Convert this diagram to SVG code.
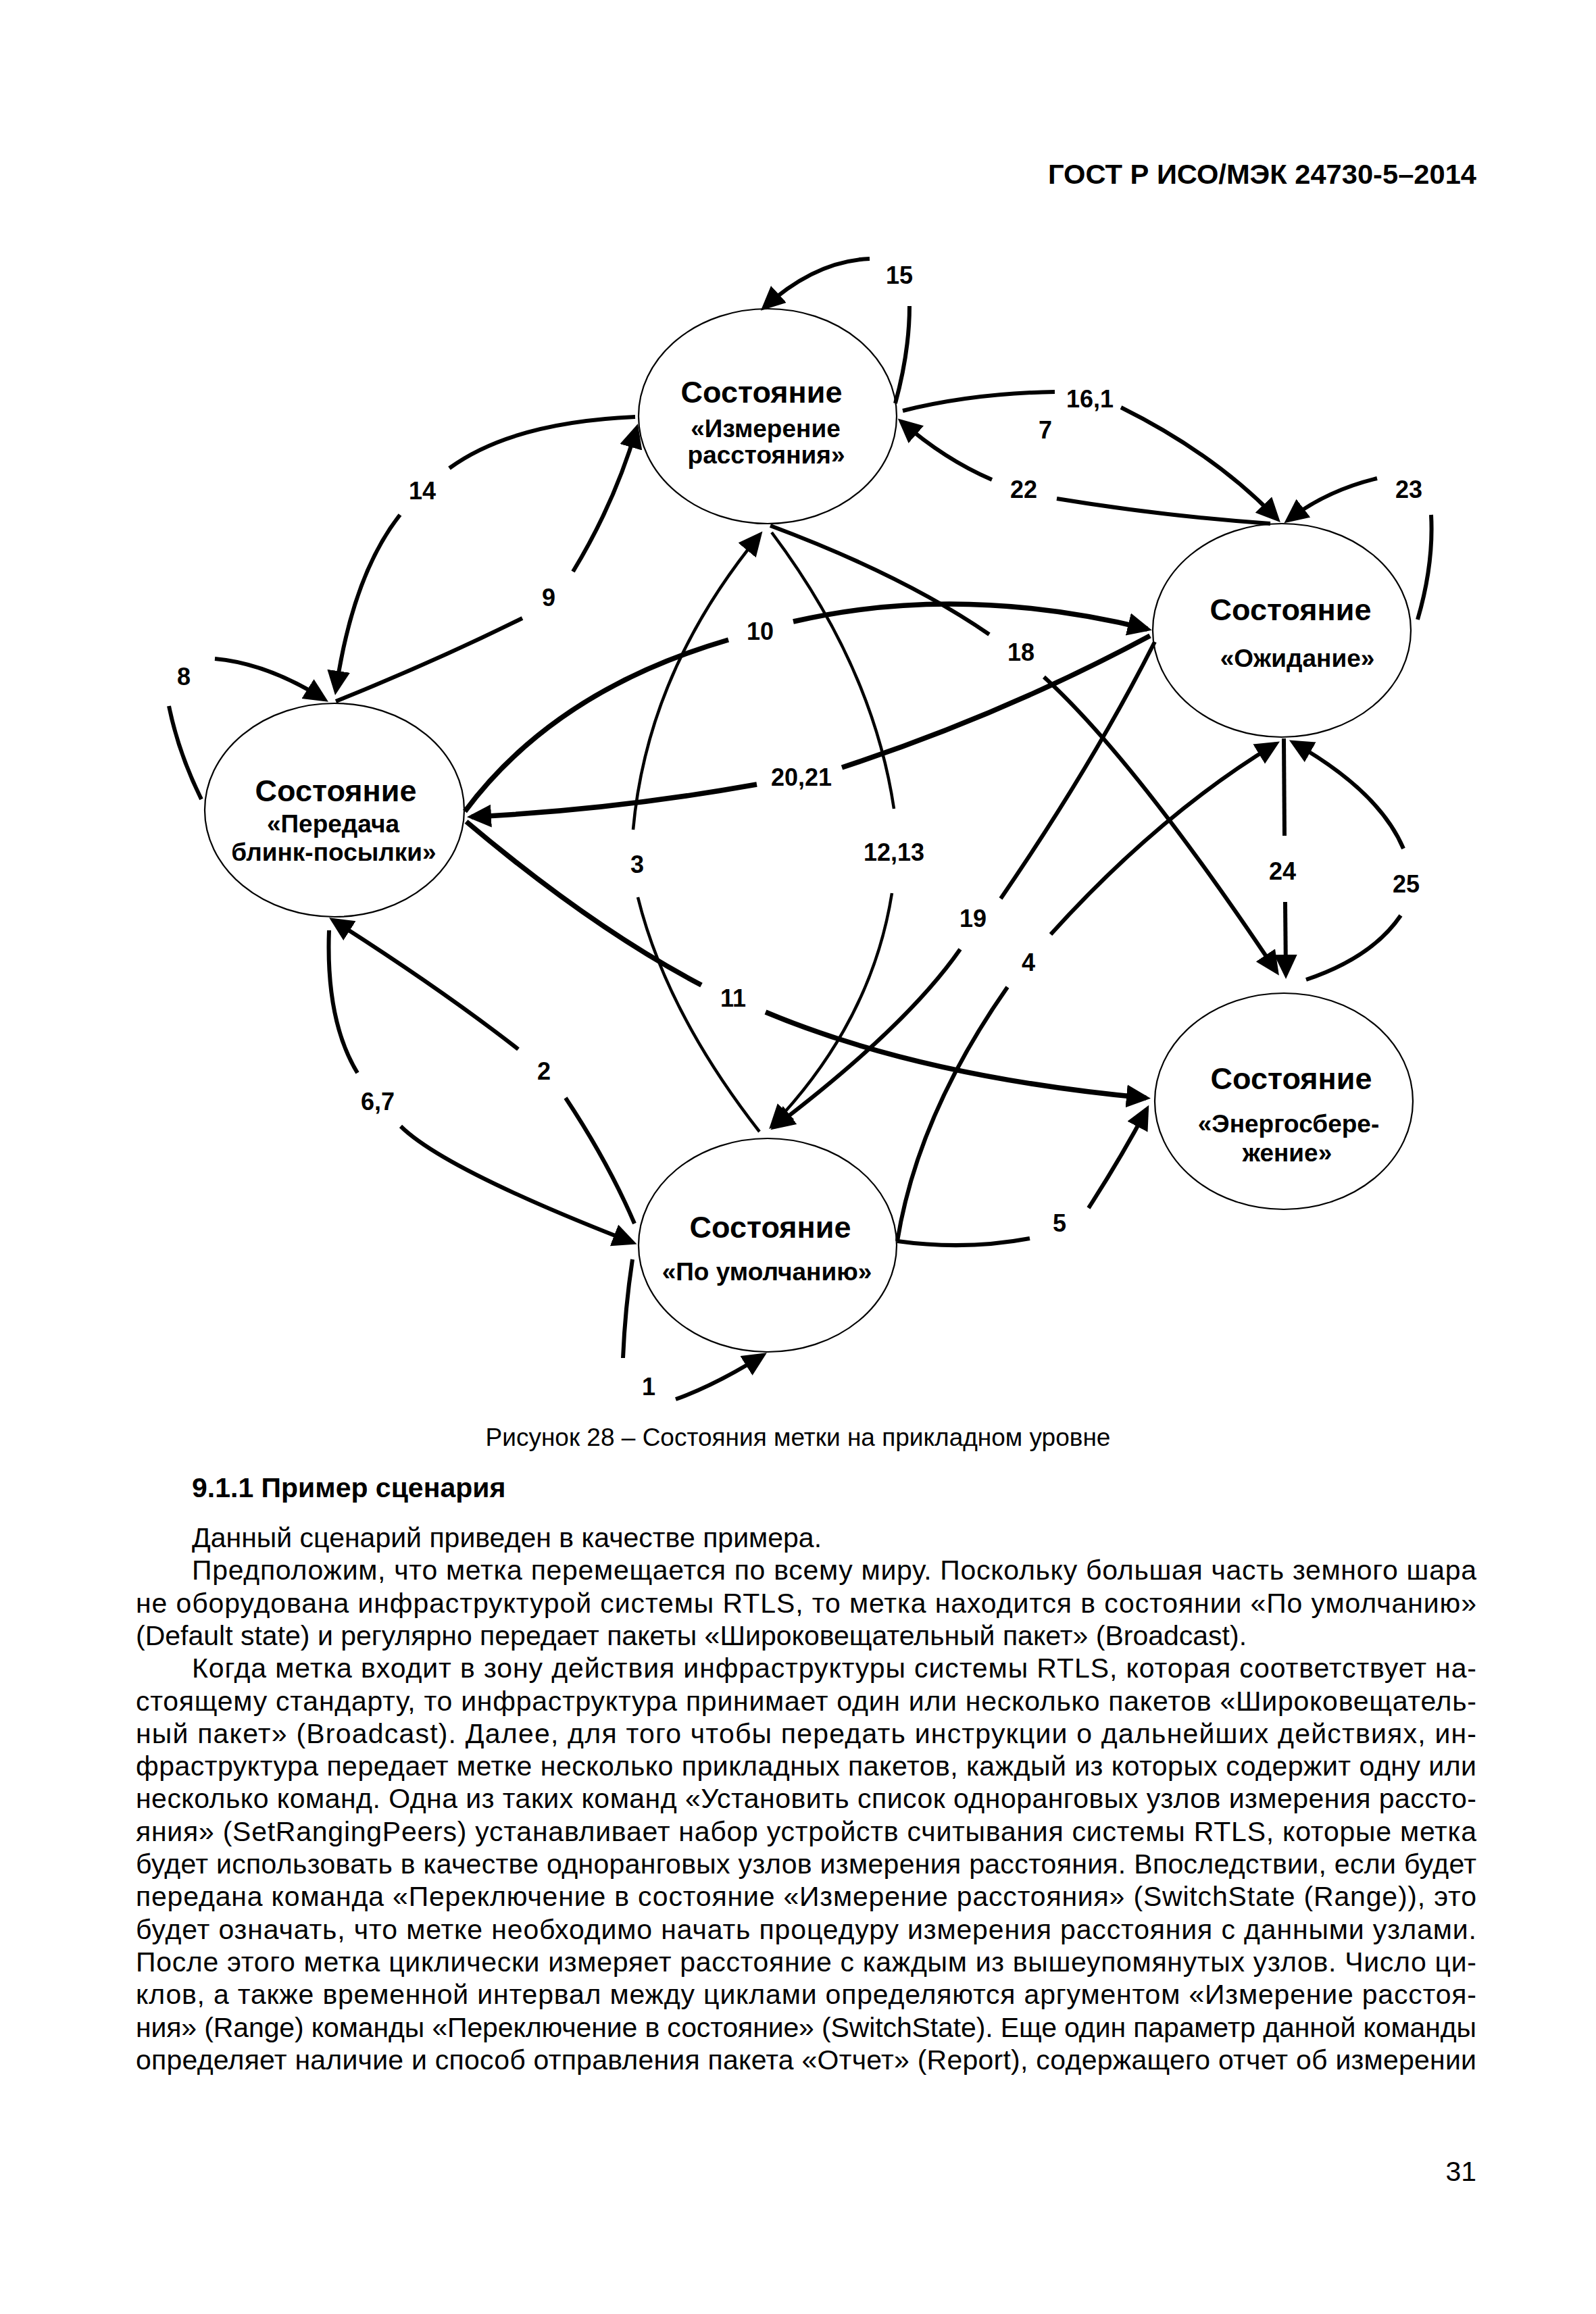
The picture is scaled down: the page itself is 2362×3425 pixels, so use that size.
<svg xmlns="http://www.w3.org/2000/svg" width="2362" height="3425" viewBox="0 0 2362 3425">
<style>
  .bg{fill:#fff}
  .node{fill:#fff;stroke:#000;stroke-width:2.2}
  .t1{font-family:"Liberation Sans",Arial,sans-serif;font-weight:bold;font-size:45px;text-anchor:middle;fill:#000}
  .t2{font-family:"Liberation Sans",Arial,sans-serif;font-weight:bold;font-size:37px;text-anchor:middle;fill:#000}
  .lbl{font-family:"Liberation Sans",Arial,sans-serif;font-weight:bold;font-size:36px;text-anchor:middle;fill:#000}
  .c{fill:none;stroke:#000;stroke-width:6;stroke-linecap:butt}
  .thin{stroke-width:4.5}
  .thick{stroke-width:7.5}
  .arr{marker-end:url(#ah)}
  .hdr{font-family:"Liberation Sans",Arial,sans-serif;font-weight:bold;font-size:41px;fill:#000}
  .cap{font-family:"Liberation Sans",Arial,sans-serif;font-size:37px;fill:#000}
  .body{font-family:"Liberation Sans",Arial,sans-serif;font-size:41px;fill:#000}
</style>
<defs>
  <marker id="ah" markerUnits="userSpaceOnUse" markerWidth="38" markerHeight="36" refX="29" refY="17" orient="auto">
    <path d="M0,0 L36,17 L0,34 z" fill="#000"/>
  </marker>
</defs>
<rect class="bg" x="0" y="0" width="2362" height="3425"/>

<text class="hdr" x="2185" y="272" text-anchor="end" textLength="634" lengthAdjust="spacingAndGlyphs">ГОСТ Р ИСО/МЭК 24730-5–2014</text>

<g id="nodes">
  <g id="node-izmerenie">
    <ellipse class="node" cx="1136" cy="616" rx="191" ry="159"/>
    <text class="t1" x="1127" y="596">Состояние</text>
    <text class="t2" x="1133" y="647">«Измерение</text>
    <text class="t2" x="1134" y="686">расстояния»</text>
  </g>
  <g id="node-ozhidanie">
    <ellipse class="node" cx="1897" cy="933" rx="191" ry="158"/>
    <text class="t1" x="1910" y="918">Состояние</text>
    <text class="t2" x="1920" y="987">«Ожидание»</text>
  </g>
  <g id="node-peredacha">
    <ellipse class="node" cx="495" cy="1199" rx="192" ry="158"/>
    <text class="t1" x="497" y="1186">Состояние</text>
    <text class="t2" x="493" y="1232">«Передача</text>
    <text class="t2" x="494" y="1274">блинк-посылки»</text>
  </g>
  <g id="node-umolch">
    <ellipse class="node" cx="1136" cy="1843" rx="191" ry="158"/>
    <text class="t1" x="1140" y="1832">Состояние</text>
    <text class="t2" x="1135" y="1895">«По умолчанию»</text>
  </g>
  <g id="node-energo">
    <ellipse class="node" cx="1900" cy="1630" rx="191" ry="160"/>
    <text class="t1" x="1911" y="1612">Состояние</text>
    <text class="t2" x="1907" y="1676">«Энергосбере-</text>
    <text class="t2" x="1905" y="1719">жение»</text>
  </g>
</g>

<g id="connectors">
  <g id="e15">
    <path class="c" d="M1325,597 Q1346,520 1346,453"/>
    <path class="c arr" d="M1287,383 Q1207,386 1131,455"/>
    <text class="lbl" x="1331" y="420">15</text>
  </g>
  <g id="e16">
    <path class="c" d="M1336,608 Q1440,582 1561,580"/>
    <path class="c arr" d="M1659,603 Q1798,672 1890,768"/>
    <text class="lbl" x="1613" y="603">16,1</text>
    <text class="lbl" x="1547" y="649">7</text>
  </g>
  <g id="e22">
    <path class="c" d="M1880,775 Q1722,764 1564,738"/>
    <path class="c arr" d="M1468,710 Q1398,680 1334,624"/>
    <text class="lbl" x="1515" y="737">22</text>
  </g>
  <g id="e23">
    <path class="c" d="M2098,917 Q2122,835 2118,762"/>
    <path class="c arr" d="M2038,708 Q1963,726 1906,770"/>
    <text class="lbl" x="2085" y="737">23</text>
  </g>
  <g id="e14">
    <path class="c" d="M940,617 Q758,625 665,693"/>
    <path class="c arr" d="M592,762 Q522,851 497,1022"/>
    <text class="lbl" x="625" y="739">14</text>
  </g>
  <g id="e9">
    <path class="c" d="M497,1038 Q646,978 773,915"/>
    <path class="c arr" d="M848,846 Q910,744 942,634"/>
    <text class="lbl" x="812" y="897">9</text>
  </g>
  <g id="e8">
    <path class="c" d="M298,1183 Q264,1114 250,1045"/>
    <path class="c arr" d="M318,975 Q396,982 480,1035"/>
    <text class="lbl" x="272" y="1014">8</text>
  </g>
  <g id="e10">
    <path class="c thick" d="M688,1201 Q821,1022 1078,947"/>
    <path class="c thick arr" d="M1174,920 Q1420,863 1698,931"/>
    <text class="lbl" x="1125" y="947">10</text>
  </g>
  <g id="e20">
    <path class="c thick" d="M1702,941 Q1486,1057 1246,1136"/>
    <path class="c thick arr" d="M1120,1161 Q907,1199 698,1209"/>
    <text class="lbl" x="1186" y="1163">20,21</text>
  </g>
  <g id="e3">
    <path class="c thin" d="M1124,1675 Q986,1498 944,1328"/>
    <path class="c thin arr" d="M937,1228 Q958,994 1124,792"/>
    <text class="lbl" x="943" y="1292">3</text>
  </g>
  <g id="e12">
    <path class="c thin" d="M1142,788 Q1292,988 1323,1197"/>
    <path class="c thin arr" d="M1320,1322 Q1290,1512 1143,1666"/>
    <text class="lbl" x="1323" y="1274">12,13</text>
  </g>
  <g id="e18">
    <path class="c" d="M1140,778 Q1338,852 1464,939"/>
    <path class="c arr" d="M1545,1002 Q1680,1125 1889,1438"/>
    <text class="lbl" x="1511" y="978">18</text>
  </g>
  <g id="e19">
    <path class="c" d="M1709,950 Q1618,1130 1481,1330"/>
    <path class="c arr" d="M1421,1405 Q1341,1520 1146,1668"/>
    <text class="lbl" x="1440" y="1372">19</text>
  </g>
  <g id="e11">
    <path class="c thick" d="M690,1216 Q876,1373 1038,1458"/>
    <path class="c thick arr" d="M1133,1498 Q1362,1594 1696,1625"/>
    <text class="lbl" x="1085" y="1490">11</text>
  </g>
  <g id="e4">
    <path class="c" d="M1328,1837 Q1358,1651 1491,1461"/>
    <path class="c arr" d="M1555,1383 Q1716,1205 1888,1101"/>
    <text class="lbl" x="1522" y="1437">4</text>
  </g>
  <g id="e5">
    <path class="c" d="M1328,1837 Q1428,1851 1524,1833"/>
    <path class="c arr" d="M1611,1788 Q1660,1712 1697,1642"/>
    <text class="lbl" x="1568" y="1823">5</text>
  </g>
  <g id="e24">
    <path class="c" d="M1900,1093 L1901,1237"/>
    <path class="c arr" d="M1902,1335 L1903,1442"/>
    <text class="lbl" x="1898" y="1302">24</text>
  </g>
  <g id="e25">
    <path class="c" d="M1933,1450 Q2031,1417 2073,1355"/>
    <path class="c arr" d="M2077,1256 Q2041,1171 1914,1099"/>
    <text class="lbl" x="2081" y="1321">25</text>
  </g>
  <g id="e2">
    <path class="c" d="M939,1811 Q900,1720 837,1625"/>
    <path class="c arr" d="M767,1553 Q653,1464 493,1362"/>
    <text class="lbl" x="805" y="1598">2</text>
  </g>
  <g id="e67">
    <path class="c" d="M487,1377 Q482,1511 529,1588"/>
    <path class="c arr" d="M593,1667 Q658,1731 936,1839"/>
    <text class="lbl" x="559" y="1643">6,7</text>
  </g>
  <g id="e1">
    <path class="c" d="M936,1864 Q925,1937 922,2010"/>
    <path class="c arr" d="M1000,2071 Q1059,2050 1129,2006"/>
    <text class="lbl" x="960" y="2065">1</text>
  </g>
</g>

<text class="cap" x="1181" y="2140" text-anchor="middle">Рисунок 28 – Состояния метки на прикладном уровне</text>
<text class="hdr" x="284" y="2216">9.1.1 Пример сценария</text>

<g id="body">
  <text class="body" x="284" y="2290">Данный сценарий приведен в качестве примера.</text>
  <text class="body" x="284" y="2338" textLength="1901" lengthAdjust="spacing">Предположим, что метка перемещается по всему миру. Поскольку большая часть земного шара</text>
  <text class="body" x="201" y="2387" textLength="1984" lengthAdjust="spacing">не оборудована инфраструктурой системы RTLS, то метка находится в состоянии «По умолчанию»</text>
  <text class="body" x="201" y="2435">(Default state) и регулярно передает пакеты «Широковещательный пакет» (Broadcast).</text>
  <text class="body" x="284" y="2483" textLength="1901" lengthAdjust="spacing">Когда метка входит в зону действия инфраструктуры системы RTLS, которая соответствует на-</text>
  <text class="body" x="201" y="2532" textLength="1984" lengthAdjust="spacing">стоящему стандарту, то инфраструктура принимает один или несколько пакетов «Широковещатель-</text>
  <text class="body" x="201" y="2580" textLength="1984" lengthAdjust="spacing">ный пакет» (Broadcast). Далее, для того чтобы передать инструкции о дальнейших действиях, ин-</text>
  <text class="body" x="201" y="2628" textLength="1984" lengthAdjust="spacing">фраструктура передает метке несколько прикладных пакетов, каждый из которых содержит одну или</text>
  <text class="body" x="201" y="2676" textLength="1984" lengthAdjust="spacing">несколько команд. Одна из таких команд «Установить список одноранговых узлов измерения рассто-</text>
  <text class="body" x="201" y="2725" textLength="1984" lengthAdjust="spacing">яния» (SetRangingPeers) устанавливает набор устройств считывания системы RTLS, которые метка</text>
  <text class="body" x="201" y="2773" textLength="1984" lengthAdjust="spacing">будет использовать в качестве одноранговых узлов измерения расстояния. Впоследствии, если будет</text>
  <text class="body" x="201" y="2821" textLength="1984" lengthAdjust="spacing">передана команда «Переключение в состояние «Измерение расстояния» (SwitchState (Range)), это</text>
  <text class="body" x="201" y="2870" textLength="1984" lengthAdjust="spacing">будет означать, что метке необходимо начать процедуру измерения расстояния с данными узлами.</text>
  <text class="body" x="201" y="2918" textLength="1984" lengthAdjust="spacing">После этого метка циклически измеряет расстояние с каждым из вышеупомянутых узлов. Число ци-</text>
  <text class="body" x="201" y="2966" textLength="1984" lengthAdjust="spacing">клов, а также временной интервал между циклами определяются аргументом «Измерение расстоя-</text>
  <text class="body" x="201" y="3015" textLength="1984" lengthAdjust="spacing">ния» (Range) команды «Переключение в состояние» (SwitchState). Еще один параметр данной команды</text>
  <text class="body" x="201" y="3063" textLength="1984" lengthAdjust="spacing">определяет наличие и способ отправления пакета «Отчет» (Report), содержащего отчет об измерении</text>
</g>
<text class="body" x="2185" y="3228" text-anchor="end">31</text>
</svg>
